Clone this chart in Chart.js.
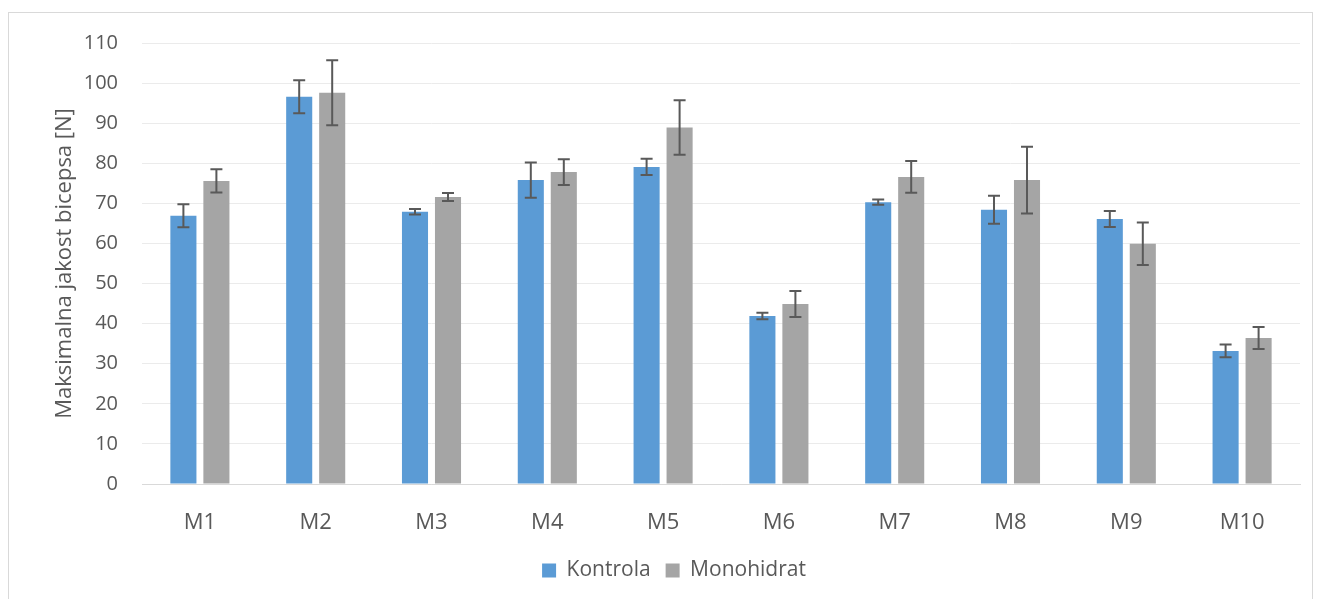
<!DOCTYPE html>
<html>
<head>
<meta charset="utf-8">
<script src="https://cdn.jsdelivr.net/npm/chart.js@4/dist/chart.umd.min.js"></script>
<style>
  html, body { margin: 0; padding: 0; background: #fff; }
  #frame { position: absolute; left: 8px; top: 12px; width: 1305px; height: 590px; border: 1px solid #d9d9d9; box-sizing: border-box; }
  #wrap { position: absolute; left: 0; top: 0; width: 1321px; height: 599px; }
</style>
</head>
<body>
<div id="frame"></div>
<div id="wrap"><canvas id="chart"></canvas></div>
<script>
const categories = ["M1", "M2", "M3", "M4", "M5", "M6", "M7", "M8", "M9", "M10"];
const kontrola = [66.9, 96.6, 67.9, 75.8, 79.1, 41.9, 70.3, 68.4, 66.1, 33.2];
const kontrolaErr = [2.85, 4.1, 0.7, 4.4, 2.0, 0.8, 0.65, 3.5, 2.0, 1.6];
const monohidrat = [75.6, 97.6, 71.6, 77.8, 88.9, 44.9, 76.6, 75.8, 59.9, 36.4];
const monohidratErr = [2.9, 8.1, 1.0, 3.2, 6.8, 3.25, 3.95, 8.35, 5.3, 2.75];

const textColor = "#595959";
const family = "'Open Sans', sans-serif";

// error bars drawn through the y scale
const errorBars = {
  id: "errorBars",
  afterLayout(chart) {
    // legend sits a bit right of centre in the original
    chart.legend.left += 24;
    chart.legend.right += 24;
  },
  afterDatasetsDraw(chart) {
    const { ctx, scales: { y } } = chart;
    ctx.save();
    ctx.strokeStyle = "#595959";
    ctx.lineWidth = 2;
    chart.data.datasets.forEach((ds, i) => {
      const meta = chart.getDatasetMeta(i);
      meta.data.forEach((bar, j) => {
        const v = ds.data[j], e = ds.errors[j];
        const top = y.getPixelForValue(v + e);
        const bot = y.getPixelForValue(v - e);
        ctx.beginPath();
        ctx.moveTo(bar.x, top); ctx.lineTo(bar.x, bot);
        ctx.moveTo(bar.x - 6, top); ctx.lineTo(bar.x + 6, top);
        ctx.moveTo(bar.x - 6, bot); ctx.lineTo(bar.x + 6, bot);
        ctx.stroke();
      });
    });
    ctx.restore();
  },
};

new Chart(document.getElementById("chart").getContext("2d"), {
  type: "bar",
  data: {
    labels: categories,
    datasets: [
      { label: "Kontrola", data: kontrola, errors: kontrolaErr, backgroundColor: "#5b9bd5" },
      { label: "Monohidrat", data: monohidrat, errors: monohidratErr, backgroundColor: "#a5a5a5" },
    ],
  },
  options: {
    responsive: true,
    maintainAspectRatio: false,
    animation: false,
    barPercentage: 0.79,
    categoryPercentage: 0.57,
    layout: { padding: { top: 43, right: 21, left: 0, bottom: 8 } },
    plugins: {
      tooltip: { enabled: false },
      legend: {
        position: "bottom",
        labels: { color: textColor, font: { family, size: 21 }, boxWidth: 14, boxHeight: 14, padding: 15 },
      },
    },
    scales: {
      x: {
        grid: { display: false },
        border: { color: "#d9d9d9", width: 1 },
        ticks: { color: textColor, font: { family, size: 22 }, padding: 18 },
        afterFit: (s) => { s.height = 61; },
      },
      y: {
        min: 0,
        max: 110,
        ticks: { stepSize: 10, color: textColor, font: { family, size: 20 }, padding: 24 },
        grid: { color: "#ebebeb", drawTicks: false },
        border: { display: false },
        title: { display: true, text: "Maksimalna jakost bicepsa [N]", color: textColor, font: { family, size: 22 }, padding: { top: 52 } },
        afterFit: (s) => { s.width = 142; },
      },
    },
  },
  plugins: [errorBars],
});
</script>
</body>
</html>
